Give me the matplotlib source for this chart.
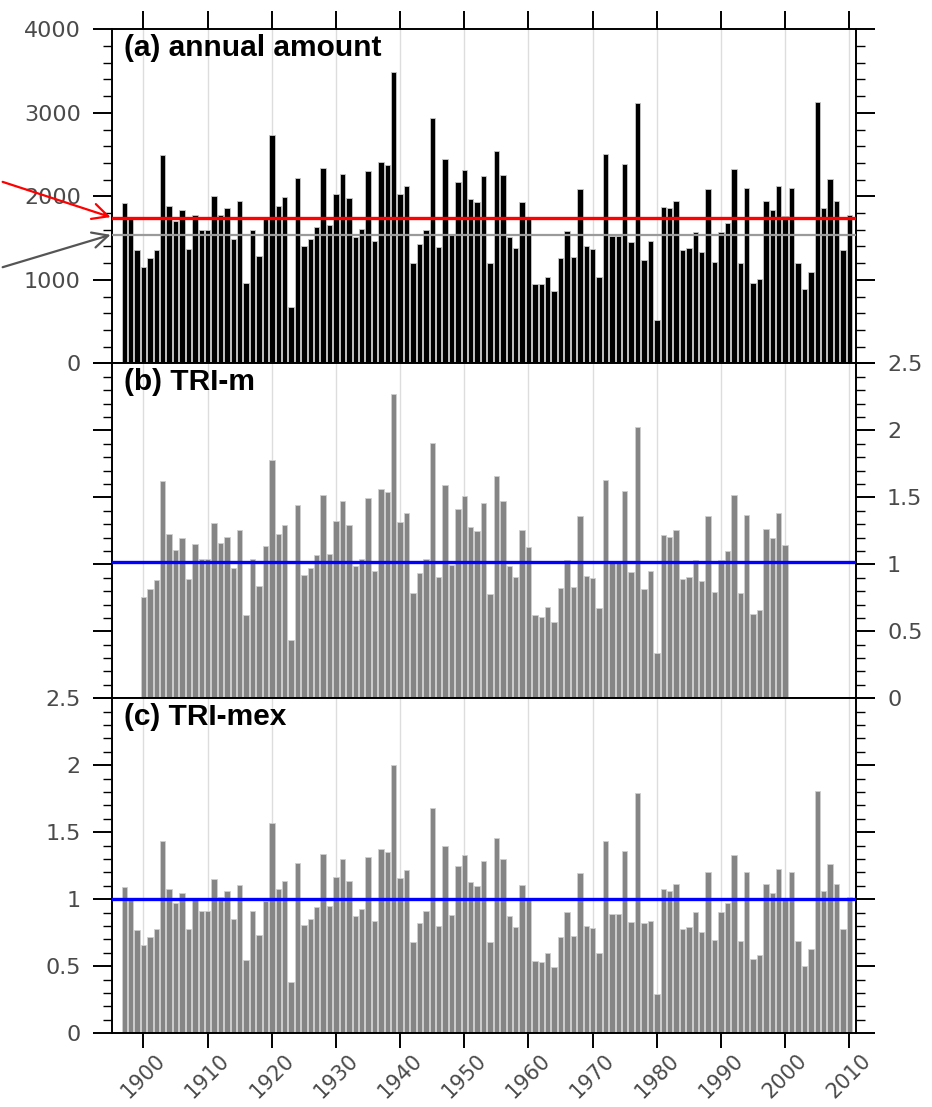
import numpy as np
import matplotlib.pyplot as plt
from matplotlib.patches import FancyArrowPatch
from matplotlib.ticker import MultipleLocator, FuncFormatter

# annual amount, 1897-2010
years = list(range(1897, 2011))
amount = [1920, 1730, 1352, 1152, 1260, 1352, 2500, 1880, 1700, 1840,
          1368, 1772, 1592, 1592, 2008, 1780, 1860, 1488, 1940, 960,
          1600, 1288, 1732, 2736, 1880, 1988, 672, 2216, 1408, 1488,
          1632, 2336, 1660, 2032, 2272, 1984, 1516, 1608, 2304, 1468,
          2408, 2376, 3492, 2032, 2120, 1200, 1432, 1600, 2936, 1392,
          2448, 1540, 2176, 2320, 1972, 1928, 2240, 1198, 2545, 2260,
          1509, 1385, 1932, 1740, 954, 946, 1038, 866, 1257, 1581,
          1277, 2092, 1409, 1369, 1034, 2503, 1525, 1525, 2383, 1457,
          3114, 1238, 1469, 515, 1868, 1856, 1944, 1357, 1385, 1577,
          1337, 2092, 1218, 1569, 1685, 2323, 1198, 2096, 966, 1006,
          1944, 1836, 2128, 1760, 2096, 1206, 886, 1094, 3134, 1864,
          2204, 1944, 1357, 1772]

# TRI-m, 1900-2000
years_m = list(range(1900, 2001))
tri_m = [0.754, 0.818, 0.883, 1.624, 1.226, 1.107, 1.194, 0.888, 1.154, 1.040,
         1.040, 1.306, 1.157, 1.201, 0.970, 1.254, 0.622, 1.042, 0.838, 1.137,
         1.779, 1.224, 1.296, 0.435, 1.443, 0.918, 0.970, 1.067, 1.520, 1.080,
         1.323, 1.475, 1.291, 0.990, 1.042, 1.498, 0.953, 1.565, 1.540, 2.271,
         1.318, 1.383, 0.784, 0.938, 1.040, 1.903, 0.908, 1.592, 0.998, 1.415,
         1.512, 1.281, 1.251, 1.460, 0.776, 1.662, 1.475, 0.988, 0.908, 1.256,
         1.132, 0.622, 0.609, 0.679, 0.567, 0.821, 1.032, 0.833, 1.361, 0.913,
         0.896, 0.672, 1.629, 1.012, 1.012, 1.547, 0.943, 2.027, 0.813, 0.953,
         0.341, 1.219, 1.206, 1.256, 0.891, 0.905, 1.032, 0.873, 1.363, 0.796,
         1.032, 1.100, 1.517, 0.784, 1.368, 0.629, 0.659, 1.266, 1.194, 1.386,
         1.144]

# TRI-mex, 1897-2010
tri_mex = [1.095, 0.995, 0.771, 0.659, 0.721, 0.776, 1.438, 1.075, 0.975, 1.050,
           0.781, 1.010, 0.915, 0.915, 1.149, 1.020, 1.062, 0.856, 1.104, 0.547,
           0.915, 0.734, 0.990, 1.572, 1.075, 1.139, 0.381, 1.274, 0.806, 0.856,
           0.940, 1.338, 0.950, 1.169, 1.299, 1.139, 0.876, 0.925, 1.318, 0.838,
           1.378, 1.356, 2.000, 1.162, 1.219, 0.682, 0.821, 0.915, 1.682, 0.801,
           1.400, 0.883, 1.249, 1.328, 1.129, 1.100, 1.284, 0.682, 1.460, 1.299,
           0.876, 0.791, 1.107, 0.995, 0.540, 0.535, 0.602, 0.493, 0.716, 0.903,
           0.729, 1.194, 0.801, 0.784, 0.597, 1.438, 0.891, 0.891, 1.363, 0.830,
           1.791, 0.821, 0.841, 0.294, 1.075, 1.062, 1.112, 0.776, 0.791, 0.908,
           0.759, 1.201, 0.697, 0.905, 0.970, 1.331, 0.689, 1.201, 0.552, 0.585,
           1.114, 1.050, 1.226, 1.010, 1.201, 0.689, 0.502, 0.629, 1.808, 1.065,
           1.264, 1.114, 0.779, 1.020]

mean_red = 1735
mean_gray = 1535
mean_m = 1.017
mean_mex = 1.005

decades = list(range(1900, 2011, 10))
titles = ['(a) annual amount', '(b) TRI-m', '(c) TRI-mex']

label_font = 'DejaVu Sans'
label_color = '#4a4a4a'


def style_axis(ax, ymax, major, minor):
    ax.set_xlim(1895.1, 2011.0)
    ax.set_ylim(0, ymax)
    ax.yaxis.set_major_locator(MultipleLocator(major))
    ax.yaxis.set_minor_locator(MultipleLocator(minor))
    ax.yaxis.set_major_formatter(FuncFormatter(lambda v, p: '%g' % v))
    ax.set_xticks(decades)
    ax.tick_params(axis='y', which='major', direction='out', length=13.5,
                   width=1.4, pad=9, labelsize=16, labelcolor=label_color)
    ax.tick_params(axis='y', which='minor', direction='out', length=6.5,
                   width=1.0)
    ax.tick_params(axis='y', which='both', left=True, right=True)
    ax.tick_params(axis='x', which='major', direction='out', length=11,
                   width=1.4, labelsize=15, labelcolor=label_color)
    for s in ax.spines.values():
        s.set_linewidth(1.4)
    for d in decades:
        ax.axvline(d, color='#dddddd', lw=1.0, zorder=0)
    for t in ax.get_yticklabels() + ax.get_xticklabels():
        t.set_fontfamily(label_font)


fig = plt.figure(figsize=(9.32, 11.07), dpi=100)
ax_a = fig.add_axes([0.1202, 0.6718, 0.798, 0.3017])
ax_b = fig.add_axes([0.1202, 0.3692, 0.798, 0.3026])
ax_c = fig.add_axes([0.1202, 0.0666, 0.798, 0.3026])

# (a) annual amount
ax_a.bar(years, amount, width=0.84, color='black', edgecolor='#c8c8c8',
         linewidth=0.6, zorder=2)
ax_a.axhline(mean_red, color='#ff0000', lw=2.4, zorder=3)
ax_a.axhline(mean_gray, color='#9a9a9a', lw=1.6, zorder=3)
style_axis(ax_a, 4000, 1000, 200)
ax_a.tick_params(axis='x', top=True, bottom=False, labeltop=False,
                 labelbottom=False, length=13)
ax_a.tick_params(axis='y', labelleft=True, labelright=False)

# (b) TRI-m
ax_b.bar(years_m, tri_m, width=0.84, color='#858585', edgecolor='#cfcfcf',
         linewidth=0.6, zorder=2)
ax_b.axhline(mean_m, color='#0000ff', lw=2.4, zorder=3)
style_axis(ax_b, 2.5, 0.5, 0.1)
ax_b.tick_params(axis='x', top=False, bottom=False, labelbottom=False)
ax_b.tick_params(axis='y', labelleft=False, labelright=True)

# (c) TRI-mex
ax_c.bar(years, tri_mex, width=0.84, color='#858585', edgecolor='#cfcfcf',
         linewidth=0.6, zorder=2)
ax_c.axhline(mean_mex, color='#0000ff', lw=2.4, zorder=3)
style_axis(ax_c, 2.5, 0.5, 0.1)
ax_c.tick_params(axis='x', top=False, bottom=True, labelbottom=True, pad=1)
ax_c.tick_params(axis='y', labelleft=True, labelright=False)
for t in ax_c.get_xticklabels():
    t.set_rotation(45)
    t.set_ha('center')
    t.set_va('top')

for ax, title in zip([ax_a, ax_b, ax_c], titles):
    ax.text(0.016, 0.985, title, transform=ax.transAxes, ha='left', va='top',
            fontsize=21.5, fontweight='bold', family='Liberation Sans',
            zorder=5)

# arrows pointing at the two reference lines
fig.add_artist(FancyArrowPatch((0.0, 0.8365), (0.1215, 0.8031),
                               transform=fig.transFigure, arrowstyle='->',
                               mutation_scale=28, color='#ff0000', lw=1.6))
fig.add_artist(FancyArrowPatch((0.0, 0.7579), (0.1215, 0.7886),
                               transform=fig.transFigure, arrowstyle='->',
                               mutation_scale=28, color='#555555', lw=1.6))

fig.savefig('out.png', dpi=100)
